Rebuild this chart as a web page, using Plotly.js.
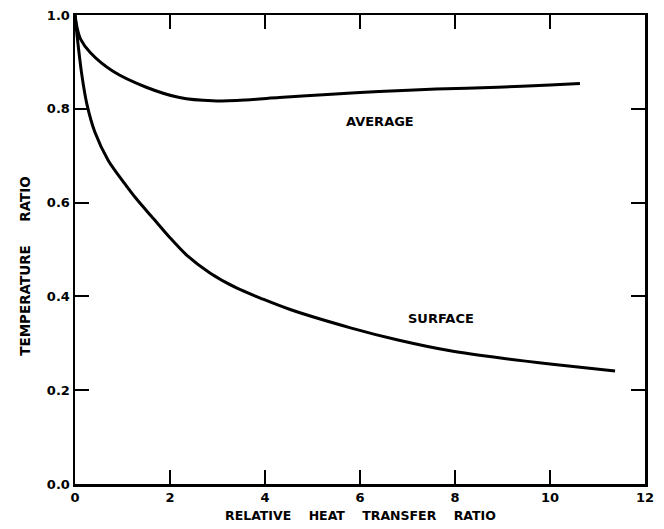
<!DOCTYPE html>
<html>
<head>
<meta charset="utf-8">
<script src="https://cdn.plot.ly/plotly-3.0.1.min.js"></script>
<style>html,body{margin:0;padding:0;background:#fff;}#chart{width:664px;height:529px;}</style>
</head>
<body>
<div id="chart"></div>
<script>
// Data
const avgX = [0, 0.05, 0.12, 0.32, 0.8, 1.5, 2.2, 2.9, 3.6, 4.3, 5.4, 6.4, 7.6, 8.9, 10.0, 10.63];
const avgY = [1.0, 0.97, 0.948, 0.92, 0.88, 0.846, 0.824, 0.817, 0.819, 0.824, 0.831, 0.837, 0.842, 0.846, 0.851, 0.854];

const surfX = [0, 0.05, 0.14, 0.25, 0.42, 0.7, 1.05, 1.3, 1.65, 2.0, 2.35, 2.84, 3.4, 3.96, 4.53, 5.8, 6.8, 7.9, 9.0, 10.0, 11.37];
const surfY = [1.0, 0.95, 0.875, 0.81, 0.75, 0.69, 0.64, 0.607, 0.566, 0.525, 0.488, 0.450, 0.418, 0.394, 0.372, 0.333, 0.307, 0.284, 0.268, 0.256, 0.241];

const xTicks = [0, 2, 4, 6, 8, 10, 12];
const xTickText = ["0", "2", "4", "6", "8", "10", "12"];
const yTicks = [0, 0.2, 0.4, 0.6, 0.8, 1.0];
const yTickText = ["0.0", "0.2", "0.4", "0.6", "0.8", "1.0"];

const seriesLabels = ["AVERAGE", "SURFACE"];
const labelPos = [[6.42, 0.772], [7.7, 0.352]];

const xTitle = "RELATIVE\u00a0\u00a0\u00a0\u00a0HEAT\u00a0\u00a0\u00a0\u00a0TRANSFER\u00a0\u00a0\u00a0\u00a0RATIO";
const yTitle = "TEMPERATURE\u00a0\u00a0\u00a0\u00a0\u00a0RATIO";

const fontFam = "DejaVu Sans, Liberation Sans, sans-serif";

const traces = [
  {x: avgX, y: avgY, name: seriesLabels[0], mode: "lines", line: {color: "#000", width: 3, shape: "spline", smoothing: 0.8}},
  {x: surfX, y: surfY, name: seriesLabels[1], mode: "lines", line: {color: "#000", width: 3, shape: "spline", smoothing: 0.8}}
];

const axisCommon = {
  showgrid: false, zeroline: false, showline: true, linecolor: "#000", linewidth: 2.5,
  ticks: "inside", ticklen: 14, tickwidth: 2, tickcolor: "#000", mirror: "ticks", layer: "above traces",
  tickfont: {family: fontFam, size: 13, color: "#000", weight: "bold"}
};

const layout = {
  width: 664, height: 529,
  margin: {l: 75, r: 19, t: 15, b: 45},
  paper_bgcolor: "#fff", plot_bgcolor: "#fff",
  showlegend: false,
  xaxis: Object.assign({}, axisCommon, {range: [0, 12], tickvals: xTicks, ticktext: xTickText}),
  yaxis: Object.assign({}, axisCommon, {range: [0, 1.0], tickvals: yTicks, ticktext: yTickText}),
  annotations: [
    {x: labelPos[0][0], y: labelPos[0][1], xref: "x", yref: "y", text: seriesLabels[0], showarrow: false,
     font: {family: fontFam, size: 13, color: "#000", weight: "bold"}},
    {x: labelPos[1][0], y: labelPos[1][1], xref: "x", yref: "y", text: seriesLabels[1], showarrow: false,
     font: {family: fontFam, size: 13, color: "#000", weight: "bold"}},
    {x: 0.5, y: -0.068, xref: "paper", yref: "paper", xanchor: "center", yanchor: "middle", text: xTitle, showarrow: false,
     font: {family: fontFam, size: 12.5, color: "#000", weight: "bold"}},
    {x: -0.088, y: 0.465, xref: "paper", yref: "paper", xanchor: "center", yanchor: "middle", text: yTitle, showarrow: false, textangle: -90,
     font: {family: fontFam, size: 13.5, color: "#000", weight: "bold"}}
  ]
};

Plotly.newPlot("chart", traces, layout, {displayModeBar: false, staticPlot: true});
</script>
</body>
</html>
